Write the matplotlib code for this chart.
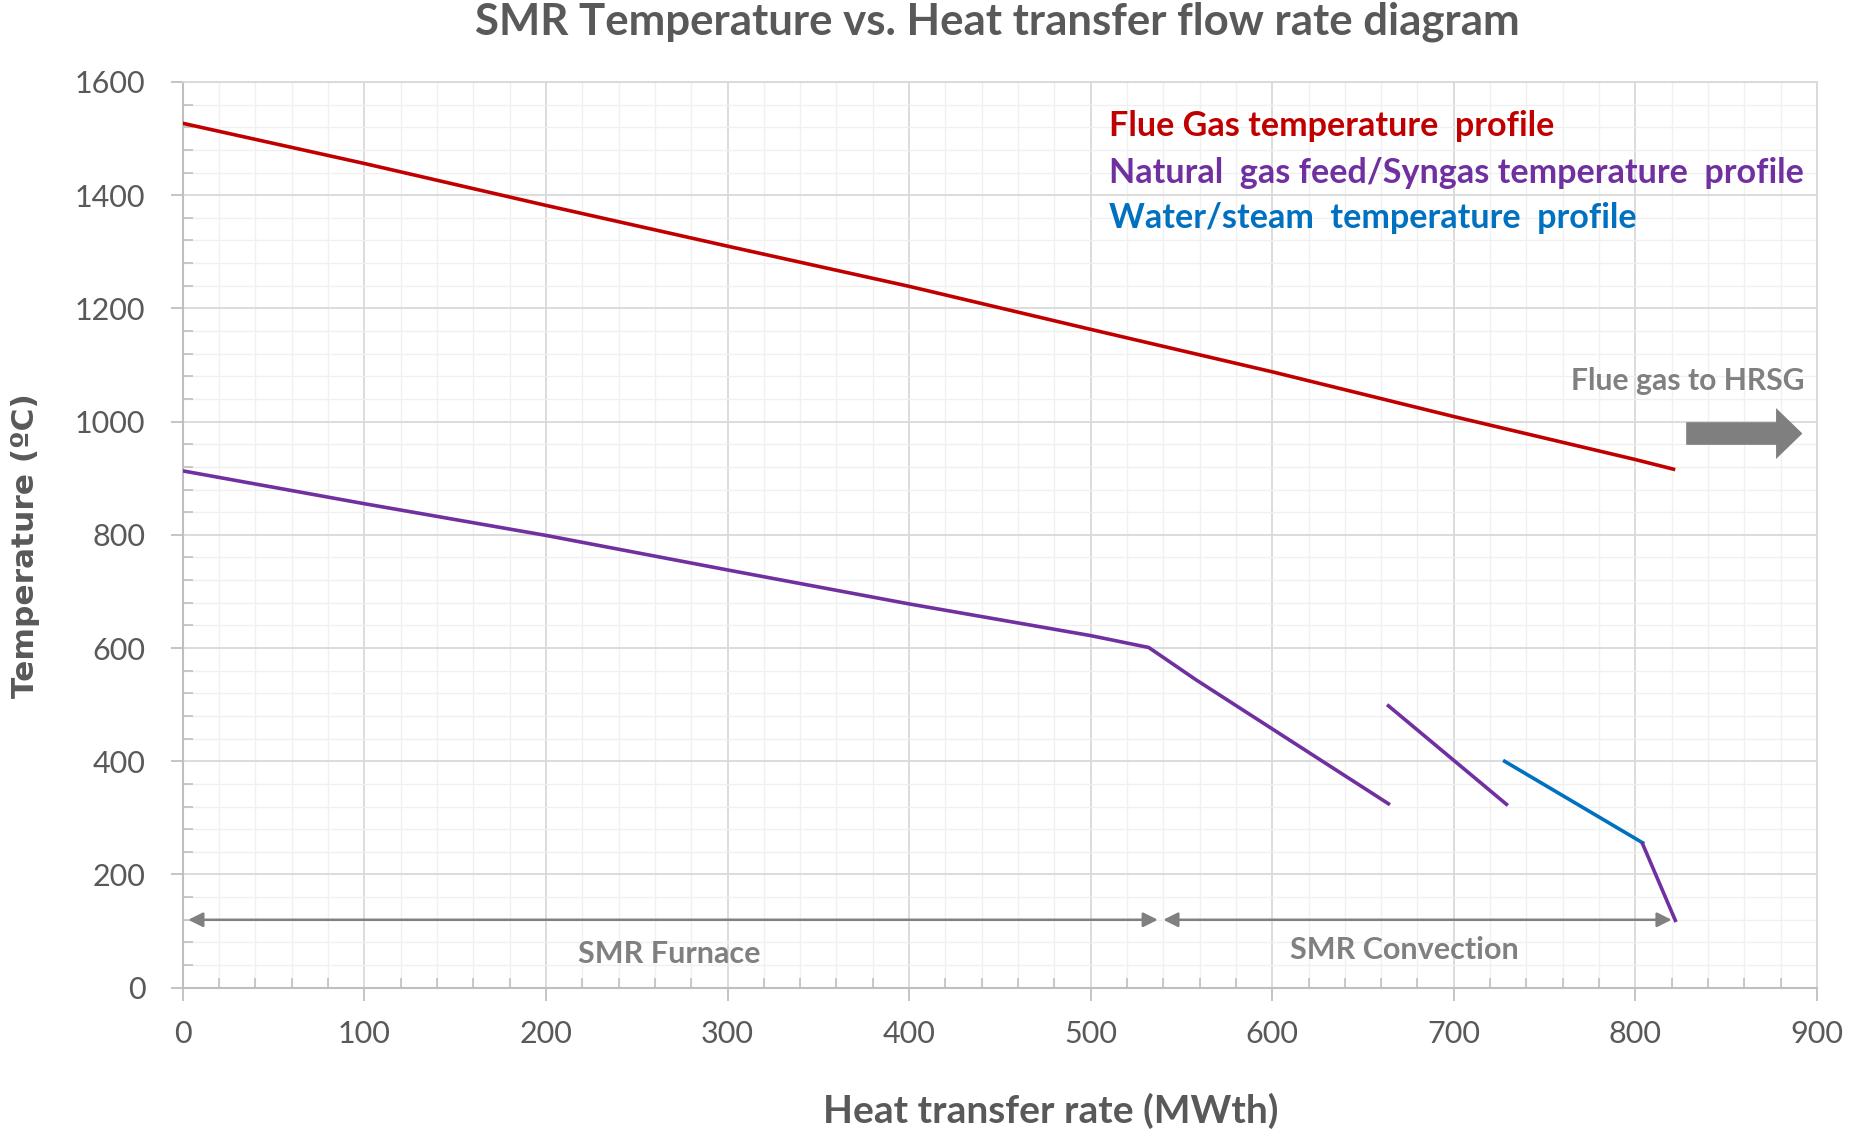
import matplotlib
matplotlib.use("Agg")
import matplotlib.pyplot as plt
from matplotlib.patches import FancyArrow
from matplotlib.ticker import MultipleLocator

# ---- data ----
flue_x = [0, 100, 200, 300, 400, 500, 600, 700, 800, 821]
flue_y = [1527, 1456, 1382, 1310, 1239, 1163, 1088, 1009, 933, 916]

ng1_x = [0, 100, 200, 300, 400, 500, 532, 558, 664]
ng1_y = [913, 855, 799, 738, 678, 622, 601, 544, 325]

ng2_x = [664, 729]
ng2_y = [498, 324]

water_x = [728, 804]
water_y = [400, 256]

ng3_x = [804, 822]
ng3_y = [254, 119]

furnace_span = [3, 537]
convection_span = [540, 820]
span_y = 120

legend_labels = ["Flue Gas temperature  profile",
                 "Natural  gas feed/Syngas temperature  profile",
                 "Water/steam  temperature  profile"]

RED = "#C00000"
PURPLE = "#7030A0"
BLUE = "#0070C0"
GRAY_TXT = "#595959"
GRAY = "#808080"

fig = plt.figure(figsize=(18.54, 11.37), dpi=100)
ax = fig.add_axes([0.0986, 0.1313, 0.8814, 0.7966])

ax.set_xlim(0, 900)
ax.set_ylim(0, 1600)
ax.xaxis.set_major_locator(MultipleLocator(100))
ax.xaxis.set_minor_locator(MultipleLocator(20))
ax.yaxis.set_major_locator(MultipleLocator(200))
ax.yaxis.set_minor_locator(MultipleLocator(40))

ax.grid(which="major", color="#d9d9d9", lw=1.3, zorder=0)
ax.grid(which="minor", color="#f0f0f0", lw=1.0, zorder=0)
ax.set_axisbelow(True)

for s in ["top", "right"]:
    ax.spines[s].set_color("#d9d9d9")
    ax.spines[s].set_linewidth(1.3)
for s in ["left", "bottom"]:
    ax.spines[s].set_color("#bfbfbf")
    ax.spines[s].set_linewidth(1.5)

ax.tick_params(which="major", direction="out", length=9, width=1.3, color="#bfbfbf",
               labelsize=22, labelcolor=GRAY_TXT)
ax.tick_params(axis="y", which="major", pad=18)
ax.tick_params(axis="x", which="major", pad=14)
ax.tick_params(which="minor", direction="in", length=7, width=1.2, color="#bfbfbf")
for lab in ax.get_xticklabels() + ax.get_yticklabels():
    lab.set_family("Lato")

lw = 2.6
ax.plot(flue_x, flue_y, color=RED, lw=lw, zorder=3)
ax.plot(ng1_x, ng1_y, color=PURPLE, lw=lw, zorder=3)
ax.plot(ng2_x, ng2_y, color=PURPLE, lw=lw, zorder=3)
ax.plot(water_x, water_y, color=BLUE, lw=lw, zorder=3)
ax.plot(ng3_x, ng3_y, color=PURPLE, lw=lw, zorder=3)

# span arrows
for span in (furnace_span, convection_span):
    ax.annotate("", xy=(span[1], span_y), xytext=(span[0], span_y),
                arrowprops=dict(arrowstyle="<|-|>", color=GRAY, lw=1.8,
                                mutation_scale=22, shrinkA=0, shrinkB=0), zorder=2)

ax.text(268, 60, "SMR Furnace", ha="center", va="center", fontsize=22,
        family="Lato", fontweight="bold", color=GRAY)
ax.text(673, 66, "SMR Convection", ha="center", va="center", fontsize=22,
        family="Lato", fontweight="bold", color=GRAY)

# flue gas to HRSG
ax.text(829, 1072, "Flue gas to HRSG", ha="center", va="center", fontsize=21.7,
        family="Lato", fontweight="bold", color=GRAY)
ax.add_patch(FancyArrow(828, 979, 64, 0, width=40, head_width=90, head_length=14.5,
                        length_includes_head=True, color="#7f7f7f", lw=0, zorder=4))

# legend-like texts
for lab, col, yy in zip(legend_labels, [RED, PURPLE, BLUE], [1522, 1440, 1359]):
    ax.text(510, yy, lab, ha="left", va="center", fontsize=24.6, family="Lato",
            fontweight="bold", color=col)

ax.set_xlabel("Heat transfer rate (MWth)", fontsize=28, family="Lato",
              fontweight="bold", color=GRAY_TXT)
ax.xaxis.set_label_coords(0.531, -0.116)
ax.set_ylabel("Temperature (ºC)", fontsize=22.5, family="DejaVu Sans",
              fontweight="bold", color=GRAY_TXT)
ax.yaxis.set_label_coords(-0.0875, 0.488)

fig.text(0.538, 0.981, "SMR Temperature vs. Heat transfer flow rate diagram",
         ha="center", va="center", fontsize=31.5, family="Lato", fontweight="bold",
         color=GRAY_TXT)

fig.savefig("out.png", dpi=100)
